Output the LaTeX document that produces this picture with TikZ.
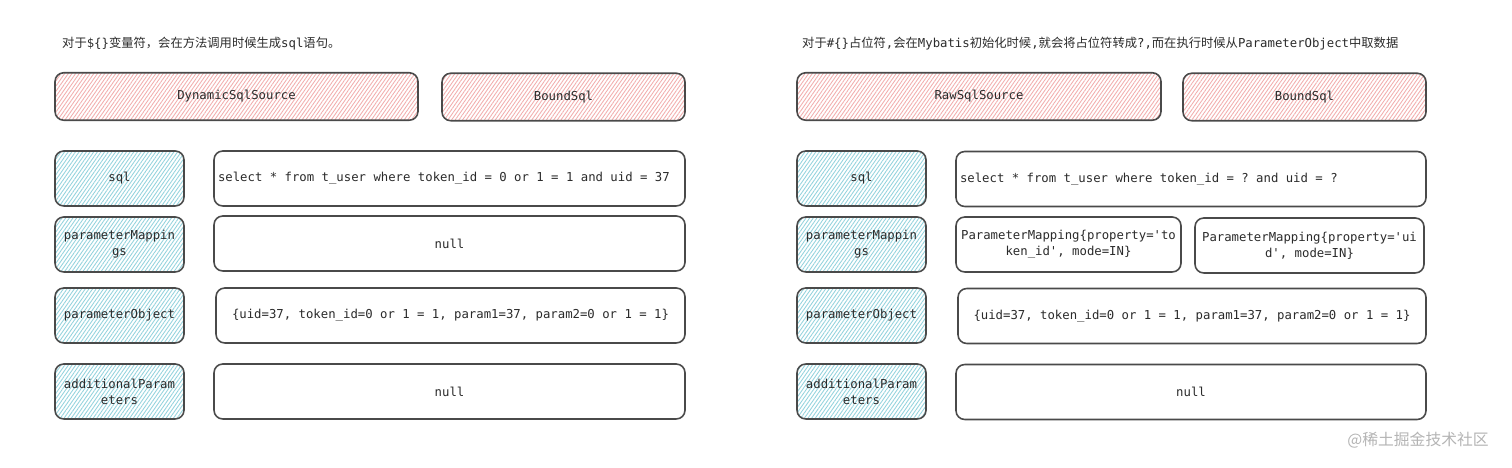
\documentclass[tikz,border=0pt]{standalone}
\usepackage{fontspec}
\setmonofont{DejaVu Sans Mono}
\newfontfamily\cjk{Noto Sans CJK SC}
\usepackage{xcolor}
\definecolor{SketchBorder}{HTML}{4A4A4A}
\definecolor{SketchText}{HTML}{2B2B2B}
\definecolor{HatchRed}{HTML}{F2AEAE}
\definecolor{HatchBlue}{HTML}{94D3DD}
\definecolor{MarkGrey}{HTML}{B4B4B4}
\usetikzlibrary{patterns.meta, positioning}

\begin{document}
\begin{tikzpicture}[
  box/.style={rectangle, rounded corners=5pt, draw=SketchBorder,
              line width=0.9pt, align=center, text=SketchText,
              font=\ttfamily\fontsize{7}{9}\selectfont},
  srcbox/.style={box, minimum height=0.95cm,
                 pattern={Lines[angle=55, distance=1.7pt, line width=0.5pt]},
                 pattern color=HatchRed},
  keybox/.style={box, minimum width=2.58cm, minimum height=1.1cm,
                 inner xsep=1pt,
                 pattern={Lines[angle=55, distance=1.7pt, line width=0.5pt]},
                 pattern color=HatchBlue},
  valbox/.style={box, fill=white, minimum height=1.1cm},
  hdr/.style={anchor=west, text=SketchText,
              font=\ttfamily\fontsize{7}{9}\selectfont},
]
\useasboundingbox (0,0) rectangle (30.24,-9.36);

% notes above each panel
\node[hdr] (l-note) at (1.12,-0.88)
  {{\cjk 对于}\$\{\}{\cjk 变量符，会在方法调用时候生成}sql{\cjk 语句。}};
\node[hdr] (r-note) at (15.92,-0.88)
  {{\cjk 对于}\#\{\}{\cjk 占位符},{\cjk 会在}Mybatis{\cjk 初始化时候},{\cjk 就会将占位符转成}?,{\cjk 而在执行时候从}ParameterObject{\cjk 中取数据}};

% source / bound sql
\node[srcbox, minimum width=7.26cm] (l-src) at (4.73,-1.93) {DynamicSqlSource};
\node[srcbox, minimum width=4.86cm] (l-bound) at (11.27,-1.94) {BoundSql};
\node[srcbox, minimum width=7.28cm] (r-src) at (19.58,-1.93) {RawSqlSource};
\node[srcbox, minimum width=4.86cm] (r-bound) at (26.09,-1.94) {BoundSql};

% field names, same in both panels
\foreach \p/\dx in {l/0, r/14.84} {
  \foreach \k/\y/\txt in {sql/-3.57/sql,
                          pm/-4.89/{parameterMappin\\gs},
                          po/-6.31/parameterObject,
                          ap/-7.83/{additionalParam\\eters}} {
    \node[keybox] (\p-\k) at (2.39+\dx,\y) {\txt};
  }
}

% left: values after ${} substitution
\node[valbox, text width=9.26cm, align=left, inner xsep=0.08cm] (l-sqlv) at (8.99,-3.57)
  {\spaceskip=0pt\xspaceskip=0pt
   select * from t\_user where token\_id = 0 or 1 = 1 and uid = 37};
\node[valbox, minimum width=9.42cm] (l-pmv) at (8.99,-4.87) {null};
\node[valbox, minimum width=9.38cm] (l-pov) at (9.01,-6.31)
  {\{uid=37, token\_id=0 or 1 = 1, param1=37, param2=0 or 1 = 1\}};
\node[valbox, minimum width=9.42cm] (l-apv) at (8.99,-7.83) {null};

% right: values with #{} placeholders
\node[valbox, text width=9.24cm, align=left, inner xsep=0.08cm] (r-sqlv) at (23.82,-3.58)
  {\spaceskip=0pt\xspaceskip=0pt
   select * from t\_user where token\_id = ? and uid = ?};
\node[valbox, minimum width=4.5cm, inner xsep=2pt] (r-pm1) at (21.37,-4.89)
  {ParameterMapping\{property='to\\ken\_id', mode=IN\}};
\node[valbox, minimum width=4.58cm, inner xsep=2pt] (r-pm2) at (26.19,-4.91)
  {ParameterMapping\{property='ui\\d', mode=IN\}};
\node[valbox, minimum width=9.36cm] (r-pov) at (23.84,-6.32)
  {\{uid=37, token\_id=0 or 1 = 1, param1=37, param2=0 or 1 = 1\}};
\node[valbox, minimum width=9.4cm] (r-apv) at (23.82,-7.84) {null};

\node[anchor=east, text=MarkGrey, font=\cjk\fontsize{9}{11}\selectfont]
  (mark) at (29.9,-8.8) {@稀土掘金技术社区};
\end{tikzpicture}
\end{document}
